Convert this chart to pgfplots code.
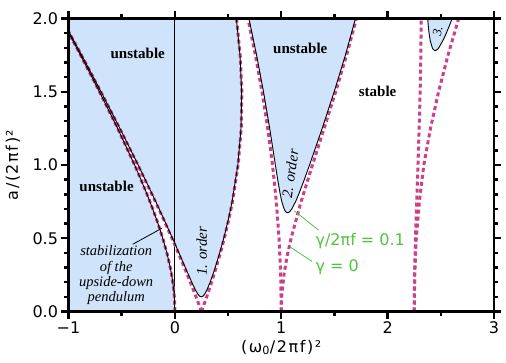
\documentclass[border=0pt]{standalone}
\usepackage{fontspec}
\setmainfont{DejaVu Sans}
\newfontfamily\tnr{Liberation Serif}
\usepackage{pgfplots}
\pgfplotsset{compat=1.18}
\definecolor{ublue}{RGB}{207,228,250}
\definecolor{mag}{RGB}{204,64,136}
\definecolor{lgreen}{RGB}{80,196,60}
\pgfplotsset{
  undamped/.style={mag, line width=3pt, dash pattern=on 4pt off 3pt},
  damped/.style={black, line width=0.9pt},
}
\begin{document}
\begin{tikzpicture}
\begin{axis}[
  at={(0,0)}, anchor=south west,
  scale only axis, width=425.5pt, height=293pt,
  xmin=-1, xmax=3, ymin=0, ymax=2,
  axis on top,
  xtick={-1,0,1,2,3}, xticklabels={−1,0,1,2,3},
  minor xtick={-0.5,0.5,1.5,2.5},
  ytick={0,0.5,1,1.5,2}, yticklabels={0.0,0.5,1.0,1.5,2.0},
  minor y tick num=4,
  tick align=outside,
  xtick pos=both, ytick pos=both,
  xticklabel pos=lower, yticklabel pos=left,
  major tick length=7pt, minor tick length=4pt,
  every tick/.append style={line width=2.4pt, black},
  axis line style={line width=2.6pt},
  tick label style={font=\fontsize{16}{16}\selectfont},
  xlabel={(ω\textsubscript{0}/2πf)²},
  ylabel={a/(2πf)²},
  xlabel style={at={(axis description cs:0.5,-0.123)}, anchor=center, font=\addfontfeatures{LetterSpace=10}\fontsize{16}{16}\selectfont},
  ylabel style={at={(axis description cs:-0.1306,0.5)}, anchor=center, font=\addfontfeatures{LetterSpace=10}\fontsize{16}{16}\selectfont},
]
% ---- unstable regions (damped, gamma/2 pi f = 0.1) ----
\addplot[fill=ublue, draw=none] coordinates {
 (-1.2,0) (0,0) (-0.00125,0.05) (-0.00498,0.1) (-0.01114,0.15) (-0.01966,0.2) (-0.03045,0.25)
 (-0.04336,0.3) (-0.0751,0.4) (-0.1138,0.5) (-0.1584,0.6) (-0.2079,0.7) (-0.2615,0.8)
 (-0.3184,0.9) (-0.3785,1.0) (-0.538,1.25) (-0.7086,1.5) (-0.8865,1.75) (-1.0702,2.0) (-1.2,2.0)
} -- cycle;
\addplot[fill=ublue, draw=none] coordinates {
 (-1.0633,2.0) (-0.8768,1.75) (-0.6942,1.5) (-0.5169,1.25) (-0.3450,1.0) (-0.1799,0.75)
 (-0.1001,0.625) (-0.0224,0.5) (0.0383,0.4) (0.0982,0.3) (0.1282,0.25) (0.1587,0.2)
 (0.1914,0.15) (0.2106,0.125) (0.2257,0.11) (0.2327,0.105) (0.2488,0.1)
 (0.2645,0.105) (0.2713,0.11) (0.2855,0.125) (0.3030,0.15) (0.3313,0.2) (0.3562,0.25)
 (0.3793,0.3) (0.4215,0.4) (0.4597,0.5) (0.5018,0.625) (0.5380,0.75) (0.5922,1.0)
 (0.6218,1.25) (0.6278,1.5) (0.6123,1.75) (0.5780,2.0)
} -- cycle;
\addplot[fill=ublue, draw=none] coordinates {
 (0.6959,2.0) (0.7680,1.75) (0.8331,1.5) (0.8914,1.25) (0.9451,1.0) (0.9667,0.9)
 (0.9906,0.8) (1.0054,0.75) (1.0268,0.7) (1.0430,0.68) (1.0532,0.675) (1.0595,0.6745)
 (1.0658,0.675) (1.0774,0.68) (1.0993,0.7) (1.1348,0.75) (1.1639,0.8) (1.2165,0.9)
 (1.2660,1.0) (1.3849,1.25) (1.4975,1.5) (1.6032,1.75) (1.6980,2.0)
} -- cycle;
\addplot[fill=ublue, draw=none] coordinates {
 (2.3765,2.0) (2.3821,1.95) (2.3897,1.9) (2.4002,1.85) (2.4197,1.8) (2.4268,1.79) (2.4462,1.78)
 (2.4696,1.79) (2.4808,1.8) (2.5206,1.85) (2.5518,1.9) (2.5804,1.95) (2.6069,2.0)
} -- cycle;
% ---- zero line ----
\addplot[black, line width=0.8pt] coordinates {(0,0) (0,2)};
% ---- undamped boundaries (gamma = 0) ----
\addplot[undamped] coordinates {
 (0,0) (-0.00125,0.05) (-0.00498,0.1) (-0.01114,0.15) (-0.01966,0.2) (-0.03045,0.25)
 (-0.04336,0.3) (-0.0751,0.4) (-0.1138,0.5) (-0.1584,0.6) (-0.2079,0.7) (-0.2615,0.8)
 (-0.3184,0.9) (-0.3785,1.0) (-0.538,1.25) (-0.7086,1.5) (-0.8865,1.75) (-1.0702,2.0)
};
\addplot[undamped] coordinates {
 (0.25,0) (0.22469,0.05) (0.19878,0.1) (0.17229,0.15) (0.14525,0.2) (0.11767,0.25)
 (0.08957,0.3) (0.03191,0.4) (-0.02756,0.5) (-0.1042,0.625) (-0.18333,0.75)
 (-0.34767,1.0) (-0.519,1.25) (-0.6961,1.5) (-0.8785,1.75) (-1.0648,2.0)
};
\addplot[undamped] coordinates {
 (0.25,0) (0.27468,0.05) (0.29873,0.1) (0.32208,0.15) (0.34475,0.2) (0.36669,0.25)
 (0.38789,0.3) (0.42796,0.4) (0.46478,0.5) (0.50593,0.625) (0.54148,0.75)
 (0.59488,1.0) (0.6239,1.25) (0.6297,1.5) (0.614,1.75) (0.5795,2.0)
};
\addplot[undamped] coordinates {
 (1,0) (0.99479,0.25) (0.97926,0.5) (0.95357,0.75) (0.91806,1.0) (0.873,1.25)
 (0.8192,1.5) (0.7569,1.75) (0.68665,2.0)
};
\addplot[undamped] coordinates {
 (1,0) (1.00417,0.1) (1.02518,0.25) (1.0542,0.375) (1.09275,0.5) (1.18668,0.75)
 (1.29302,1.0) (1.40325,1.25) (1.5114,1.5) (1.61425,1.75) (1.70725,2.0)
};
\addplot[undamped] coordinates {
 (2.25,0) (2.2534,0.25) (2.2619,0.5) (2.2732,0.75) (2.2852,1.0) (2.2966,1.25)
 (2.3058,1.5) (2.3123,1.75) (2.3154,2.0)
};
\addplot[undamped] coordinates {
 (2.25,0) (2.2544,0.25) (2.2696,0.5) (2.2984,0.75) (2.3402,1.0) (2.4031,1.25)
 (2.4788,1.5) (2.568,1.75) (2.668,2.0)
};
% ---- damped boundaries (gamma/2 pi f = 0.1) ----
\addplot[damped] coordinates {
 (0,0) (-0.00125,0.05) (-0.00498,0.1) (-0.01114,0.15) (-0.01966,0.2) (-0.03045,0.25)
 (-0.04336,0.3) (-0.0751,0.4) (-0.1138,0.5) (-0.1584,0.6) (-0.2079,0.7) (-0.2615,0.8)
 (-0.3184,0.9) (-0.3785,1.0) (-0.538,1.25) (-0.7086,1.5) (-0.8865,1.75) (-1.0702,2.0)
};
\addplot[damped] coordinates {
 (-1.0633,2.0) (-0.8768,1.75) (-0.6942,1.5) (-0.5169,1.25) (-0.3450,1.0) (-0.1799,0.75)
 (-0.1001,0.625) (-0.0224,0.5) (0.0383,0.4) (0.0982,0.3) (0.1282,0.25) (0.1587,0.2)
 (0.1914,0.15) (0.2106,0.125) (0.2257,0.11) (0.2327,0.105) (0.2488,0.1)
 (0.2645,0.105) (0.2713,0.11) (0.2855,0.125) (0.3030,0.15) (0.3313,0.2) (0.3562,0.25)
 (0.3793,0.3) (0.4215,0.4) (0.4597,0.5) (0.5018,0.625) (0.5380,0.75) (0.5922,1.0)
 (0.6218,1.25) (0.6278,1.5) (0.6123,1.75) (0.5780,2.0)
};
\addplot[damped] coordinates {
 (0.6959,2.0) (0.7680,1.75) (0.8331,1.5) (0.8914,1.25) (0.9451,1.0) (0.9667,0.9)
 (0.9906,0.8) (1.0054,0.75) (1.0268,0.7) (1.0430,0.68) (1.0532,0.675) (1.0595,0.6745)
 (1.0658,0.675) (1.0774,0.68) (1.0993,0.7) (1.1348,0.75) (1.1639,0.8) (1.2165,0.9)
 (1.2660,1.0) (1.3849,1.25) (1.4975,1.5) (1.6032,1.75) (1.6980,2.0)
};
\addplot[damped] coordinates {
 (2.3765,2.0) (2.3821,1.95) (2.3897,1.9) (2.4002,1.85) (2.4197,1.8) (2.4268,1.79) (2.4462,1.78)
 (2.4696,1.79) (2.4808,1.8) (2.5206,1.85) (2.5518,1.9) (2.5804,1.95) (2.6069,2.0)
};
% ---- annotations ----
\node[font=\tnr\bfseries\fontsize{15}{15}\selectfont] at (axis cs:-0.349,1.76) {unstable};
\node[font=\tnr\bfseries\fontsize{15}{15}\selectfont] at (axis cs:-0.642,0.856) {unstable};
\node[font=\tnr\bfseries\fontsize{15}{15}\selectfont] at (axis cs:1.179,1.795) {unstable};
\node[font=\tnr\bfseries\fontsize{15}{15}\selectfont] at (axis cs:1.906,1.50) {stable};
\node[font=\tnr\itshape\fontsize{14.5}{15.3}\selectfont, align=center, inner sep=0pt] at (axis cs:-0.552,0.247)
  {stabilization\\of the\\upside-down\\pendulum};
\draw[black, line width=0.8pt] (axis cs:-0.396,0.459) -- (axis cs:-0.123,0.568);
\node[font=\tnr\itshape\fontsize{15}{15}\selectfont, rotate=90] at (axis cs:0.253,0.41) {1. order};
\node[font=\tnr\itshape\fontsize{15}{15}\selectfont, rotate=82] at (axis cs:1.085,0.94) {2. order};
\node[font=\tnr\itshape\fontsize{13}{13}\selectfont, rotate=80] at (axis cs:2.47,1.915) {3.};
\draw[lgreen, line width=0.8pt] (axis cs:1.123,0.687) -- (axis cs:1.352,0.555);
\draw[lgreen, line width=0.8pt] (axis cs:1.085,0.440) -- (axis cs:1.29,0.342);
\node[lgreen, font=\fontsize{16}{16}\selectfont, anchor=west, inner sep=0pt] at (axis cs:1.321,0.479) {γ/2πf = 0.1};
\node[lgreen, font=\fontsize{16}{16}\selectfont, anchor=west, inner sep=0pt] at (axis cs:1.321,0.30) {γ = 0};
\end{axis}
\pgfresetboundingbox
\useasboundingbox (-68.5pt,-50.5pt) rectangle (437.5pt,311.5pt);
\end{tikzpicture}
\end{document}
